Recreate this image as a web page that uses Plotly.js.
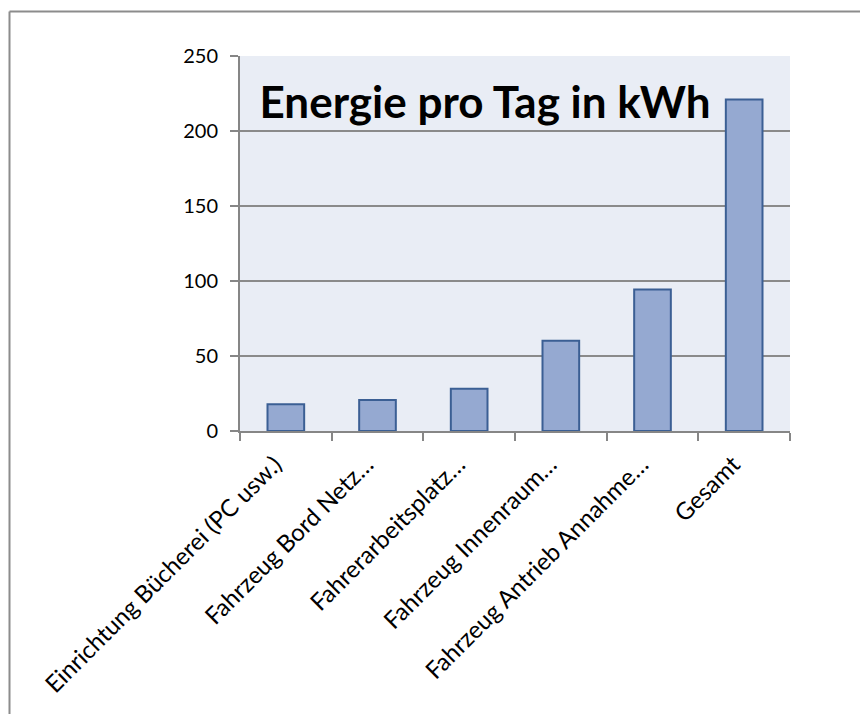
<!DOCTYPE html>
<html>
<head>
<meta charset="utf-8">
<script src="https://cdn.plot.ly/plotly-3.0.1.min.js"></script>
<style>html,body{margin:0;padding:0;background:#fff;}#chart{width:860px;height:714px;}</style>
</head>
<body>
<div id="chart"></div>
<script>
const categories = [
  "Einrichtung Bücherei (PC usw.)",
  "Fahrzeug Bord Netz…",
  "Fahrerarbeitsplatz…",
  "Fahrzeug Innenraum…",
  "Fahrzeug Antrieb Annahme…",
  "Gesamt"
];
const energyPerDay = [17.8, 20.6, 28.2, 60.2, 94.3, 221];
const yTicks = [0, 50, 100, 150, 200, 250];
const chartTitle = "Energie pro Tag in kWh";

const FONT = "Lato, 'Open Sans', sans-serif";
const pl = 240, pr = 790, pt = 56, pb = 431, W = 860, H = 714;
const px = v => (v - pl) / (pr - pl);
const py = v => (pb - v) / (pb - pt);

const data = [{
  type: "bar",
  x: categories,
  y: energyPerDay,
  marker: { color: "#95a9d1", line: { color: "#3b5f94", width: 2 } },
  hoverinfo: "x+y"
}];

const layout = {
  width: W, height: H,
  margin: { l: pl, r: W - pr, t: pt, b: H - pb },
  paper_bgcolor: "#ffffff",
  plot_bgcolor: "#e9edf5",
  bargap: 0.6,
  showlegend: false,
  font: { family: FONT, size: 20, color: "#000" },
  title: {
    text: "<b>" + chartTitle + "</b>",
    font: { family: FONT, size: 44, color: "#000" },
    xref: "paper", x: px(485), xanchor: "center",
    yref: "container", y: 1 - 103 / H, yanchor: "middle"
  },
  xaxis: {
    type: "category",
    tickangle: -45,
    tickson: "boundaries",
    ticks: "outside", ticklen: 8, tickcolor: "#868686", tickwidth: 2,
    ticklabelstandoff: 8,
    ticklabelshift: -11,
    showline: true, linecolor: "#868686", linewidth: 2,
    showgrid: false,
    tickfont: { family: FONT, size: 24, color: "#000" },
    automargin: false
  },
  yaxis: {
    range: [0, 250],
    tickvals: yTicks,
    ticktext: yTicks.map(String),
    ticks: "outside", ticklen: 8, tickcolor: "#868686", tickwidth: 2,
    ticklabelstandoff: 8,
    showline: true, linecolor: "#868686", linewidth: 2,
    showgrid: true, gridcolor: "#8a8a8a", gridwidth: 2,
    zeroline: false,
    tickfont: { family: FONT, size: 20, color: "#000" },
    automargin: false
  },
  shapes: [
    { type: "line", xref: "paper", yref: "paper", x0: px(9.5), x1: px(9.5), y0: py(11.5), y1: py(714), line: { color: "#8c8c8c", width: 2 } },
    { type: "line", xref: "paper", yref: "paper", x0: px(9.5), x1: px(860), y0: py(11.5), y1: py(11.5), line: { color: "#8c8c8c", width: 2 } }
  ]
};

Plotly.newPlot("chart", data, layout, { displayModeBar: false, staticPlot: true });
</script>
</body>
</html>
